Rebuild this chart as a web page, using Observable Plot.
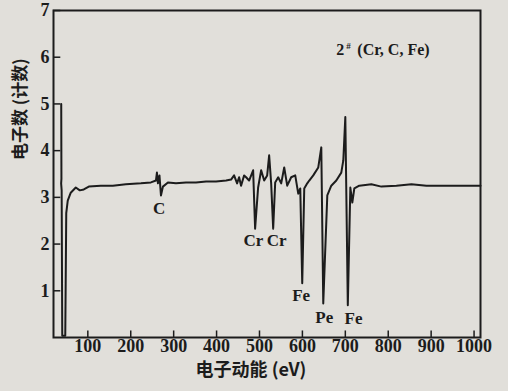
<!DOCTYPE html>
<html><head><meta charset="utf-8">
<script src="https://cdn.jsdelivr.net/npm/d3@7"></script>
<script src="https://cdn.jsdelivr.net/npm/@observablehq/plot@0.6"></script>
<style>body{margin:0;background:#e1dfda;}</style>
</head><body><div id="chart"></div>
<script>
// Auger spectrum trace: electron kinetic energy (eV) and counts
const energy = [38,38.5,37.8,39,40.4,47.4,49.7,53.2,60.2,71.9,81.3,90.6,102.3,130.3,158.3,188.7,223.7,247,258.7,261,263.4,266.9,270.4,275,286.7,305.4,328.7,352.1,375.5,398.8,422.2,433.8,440.8,447.8,452.5,457.1,464.2,468.8,475.8,485.2,489.8,496.8,503.9,510.9,517.9,522.5,527.2,531.9,536.6,543.6,550.6,557.6,564.6,573.9,583.3,590.3,595,599.6,604.3,611.3,616,625.3,637,644,648.6,658,667.3,679,690.6,695.3,700,705.8,711.7,716.3,721,732.6,760.7,784,819,854.1,889.1,924.1,970.8,1015];
const counts = [5.0,3.4,3.3,3.15,0.04,0.04,2.66,2.93,3.10,3.21,3.15,3.17,3.23,3.25,3.25,3.28,3.30,3.32,3.36,3.53,3.30,3.47,3.04,3.23,3.32,3.30,3.32,3.32,3.34,3.34,3.36,3.38,3.47,3.30,3.43,3.25,3.47,3.43,3.36,3.58,2.33,3.21,3.58,3.36,3.47,3.90,3.30,2.33,3.32,3.43,3.30,3.64,3.25,3.43,3.47,3.08,3.19,1.16,3.19,3.30,3.36,3.47,3.64,4.07,0.73,3.04,3.25,3.36,3.53,3.79,4.72,0.69,3.21,2.89,3.19,3.25,3.28,3.23,3.25,3.28,3.25,3.25,3.25,3.25];

const xTicks = [100,200,300,400,500,600,700,800,900,1000];
const yTicks = [1,2,3,4,5,6,7];

const peakNames = ["C","Cr","Cr","Fe","Pe","Fe"];
const peakEnergy = [266,486,540,597,651,719];
const peakLevel = [2.76,2.08,2.08,0.9,0.42,0.4];

const sampleTitle = ["2","#","(Cr, C, Fe)"];
const xLabel = "电子动能 (eV)";
const yLabel = "电子数 (计数)";

const spectrum = energy.map((e,i)=>({e, v: counts[i]}));
const peaks = peakNames.map((n,i)=>({n, e: peakEnergy[i], v: peakLevel[i]}));

const ink = "#1c1c1c";
const serif = "'Liberation Serif', 'DejaVu Serif', serif";
const cjk = "'Noto Sans CJK SC', sans-serif";

const chart = Plot.plot({
  width: 508, height: 391,
  marginLeft: 53, marginRight: 28, marginTop: 10, marginBottom: 54,
  x: {domain: [20, 1015]},
  y: {domain: [0, 7]},
  style: {background: "#e1dfda", color: ink, fontFamily: serif},
  marks: [
    Plot.frame({stroke: ink, strokeWidth: 2}),
    Plot.ruleX(xTicks, {x: d=>d, y1: 0, y2: 0.14, stroke: ink, strokeWidth: 1.5}),
    Plot.ruleY(yTicks, {y: d=>d, x1: 20, x2: 37, stroke: ink, strokeWidth: 1.5}),
    Plot.axisX({ticks: xTicks, tickSize: 0, tickPadding: 2, tickFormat: d=>String(d), fontSize: 18, fontWeight: "bold", fontFamily: serif, label: null}),
    Plot.axisY({ticks: yTicks, tickSize: 0, tickPadding: 4, tickFormat: d=>String(d), fontSize: 18, fontWeight: "bold", fontFamily: serif, label: null}),
    Plot.line(spectrum, {x: "e", y: "v", stroke: ink, strokeWidth: 2, curve: "linear"}),
    Plot.text(peaks, {x: "e", y: "v", text: "n", fontSize: 17, fontWeight: "bold", fontFamily: serif, fill: ink}),
    Plot.text([sampleTitle[0]], {x: 679, y: 6.15, text: d=>d, textAnchor: "start", fontSize: 16, fontWeight: "bold", fill: ink}),
    Plot.text([sampleTitle[1]], {x: 702, y: 6.15, text: d=>d, textAnchor: "start", dy: -4, fontSize: 9, fontWeight: "bold", fill: ink}),
    Plot.text([sampleTitle[2]], {x: 728, y: 6.15, text: d=>d, textAnchor: "start", fontSize: 16, fontWeight: "bold", fill: ink}),
    Plot.text([xLabel], {frameAnchor: "bottom", dx: -16, dy: 38, text: d=>d, fontFamily: cjk, fontSize: 18, fontWeight: "bold", fill: ink}),
    Plot.text([yLabel], {frameAnchor: "left", dx: -33, dy: -14, rotate: -90, text: d=>d, fontFamily: cjk, fontSize: 17, fontWeight: "bold", fill: ink})
  ]
});
document.getElementById("chart").appendChild(chart);
</script>
</body></html>
